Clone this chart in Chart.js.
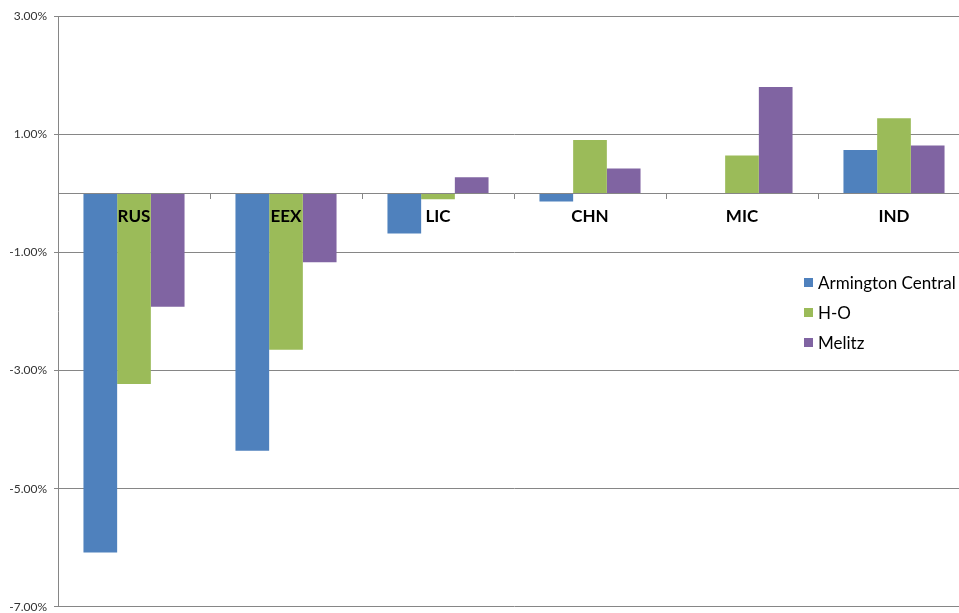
<!DOCTYPE html>
<html>
<head>
<meta charset="utf-8">
<script src="https://cdn.jsdelivr.net/npm/chart.js@4/dist/chart.umd.min.js"></script>
<style>
  html, body { margin: 0; padding: 0; background: #fff; overflow: hidden; }
  #wrap { position: relative; width: 970px; height: 613px; overflow: hidden; }
  #legend { position: absolute; left: 804px; top: 267px; font-family: Lato, "Noto Sans", sans-serif; font-size: 17px; color: #000; }
  #legend .item { display: flex; align-items: center; height: 30px; }
  #legend .sw { width: 9px; height: 9px; margin-right: 5px; }
</style>
</head>
<body>
<div id="wrap">
  <canvas id="c" width="970" height="621"></canvas>
  <div id="legend"></div>
</div>
<script>
const categories = ["RUS", "EEX", "LIC", "CHN", "MIC", "IND"];
const seriesNames = ["Armington Central", "H-O", "Melitz"];
const armington = [-6.08, -4.36, -0.68, -0.14, 0.00, 0.73];
const ho = [-3.23, -2.65, -0.10, 0.90, 0.64, 1.27];
const melitz = [-1.92, -1.17, 0.27, 0.42, 1.80, 0.81];
const colors = ["#4F81BD", "#9BBB59", "#8064A2"];
const yMin = -7, yMax = 3, yStep = 2;

const seriesValues = [armington, ho, melitz];
const datasets = seriesNames.map((n, i) => ({
  label: n,
  data: seriesValues[i],
  backgroundColor: colors[i],
  borderWidth: 0,
  categoryPercentage: 0.665,
  barPercentage: 1.0
}));

new Chart(document.getElementById('c'), {
  type: 'bar',
  data: { labels: categories, datasets },
  options: {
    responsive: false,
    animation: false,
    devicePixelRatio: 1,
    layout: { padding: { top: 16, bottom: 7, left: 0, right: 0 } },
    plugins: { legend: { display: false }, tooltip: { enabled: false } },
    scales: {
      x: {
        position: { y: 0 },
        offset: true,
        grid: { offset: true, drawOnChartArea: false, drawTicks: true, tickLength: 5, color: '#868686', z: 1 },
        border: { display: true, color: '#868686', width: 1, z: 1 },
        ticks: { z: 1, padding: 8, color: '#000', font: { family: 'Lato, "Noto Sans", sans-serif', size: 17, weight: 'bold' } },
        afterFit: s => { s.height = 0; }
      },
      y: {
        min: yMin, max: yMax,
        ticks: { stepSize: yStep, padding: 7, color: '#333',
          font: { family: 'Lato, "Noto Sans", sans-serif', size: 12 },
          callback: v => v.toFixed(2) + '%' },
        grid: { color: '#868686', tickLength: 4 },
        border: { display: true, color: '#868686' },
        afterFit: s => { s.width = 58; }
      }
    }
  }
});

const lg = document.getElementById('legend');
seriesNames.forEach((n, i) => {
  const it = document.createElement('div'); it.className = 'item';
  const sw = document.createElement('span'); sw.className = 'sw'; sw.style.background = colors[i];
  const t = document.createElement('span'); t.textContent = n;
  it.appendChild(sw); it.appendChild(t); lg.appendChild(it);
});
</script>
</body>
</html>
